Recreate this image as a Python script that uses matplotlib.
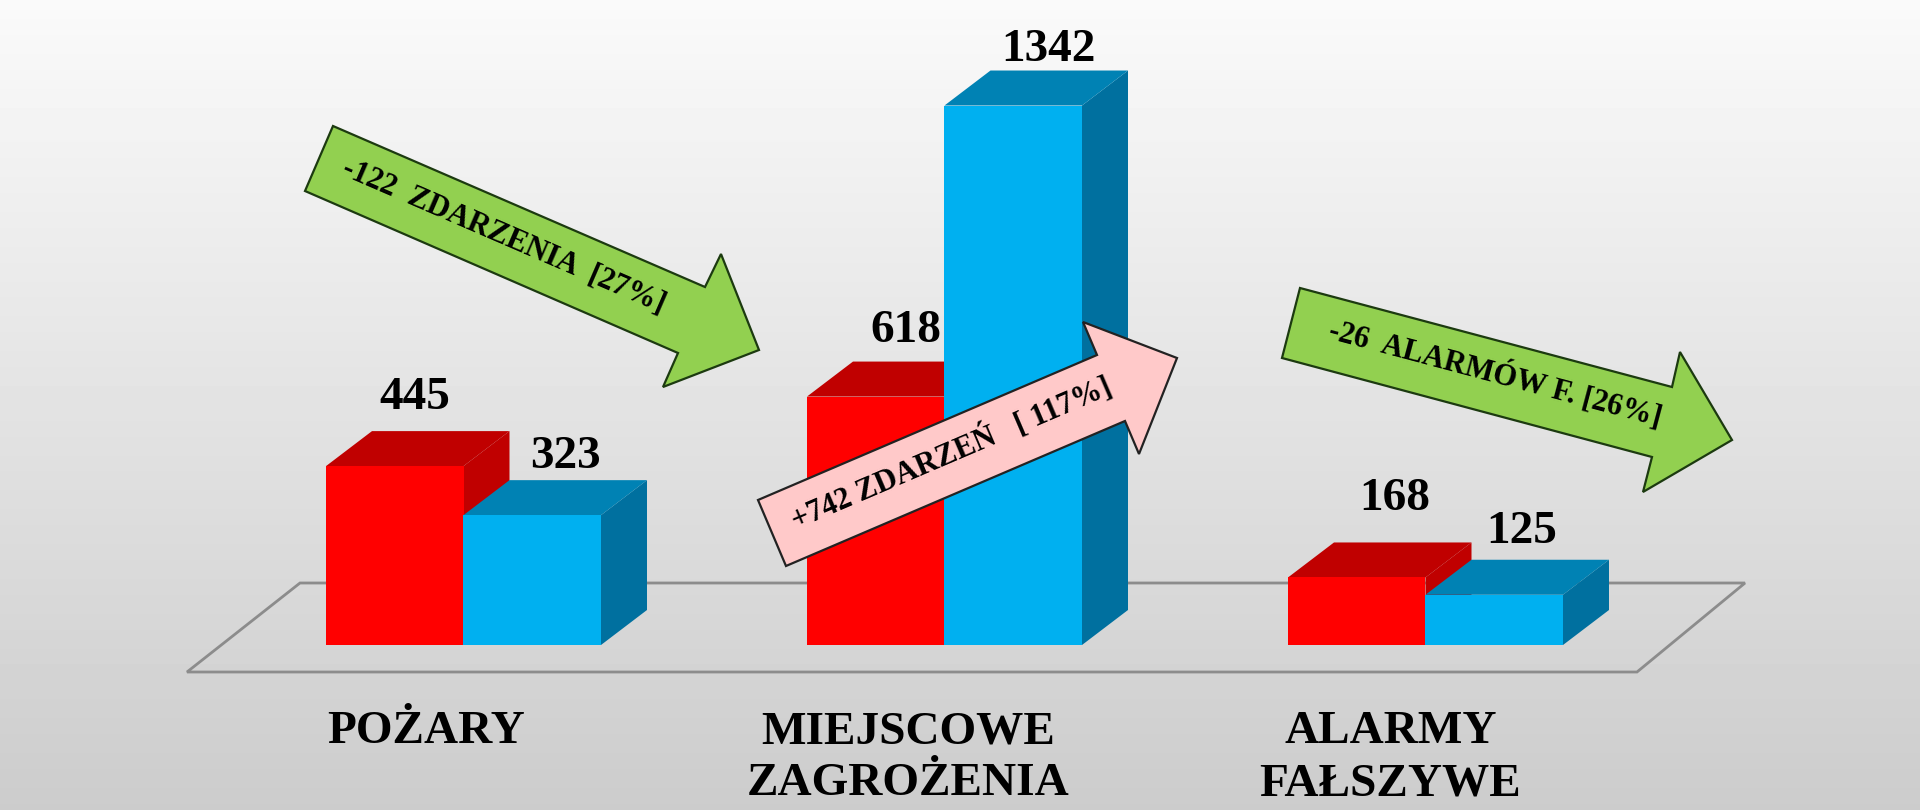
import numpy as np
import matplotlib
matplotlib.use("Agg")
import matplotlib.pyplot as plt
from matplotlib.patches import Polygon

# Data
categories = ["POŻARY", "MIEJSCOWE\nZAGROŻENIA", "ALARMY\nFAŁSZYWE"]
values_red = [445, 618, 168]
values_blue = [323, 1342, 125]
arrow_labels = ["-122  ZDARZENIA  [27%]", "+742 ZDARZEŃ   [ 117%]", "-26  ALARMÓW F. [26%]"]

# Style / layout (pixels)
W, H = 1920, 810
GROUP_PX = 481
BAR_PX = 137.5
ZERO_X = 463.5
ZERO_Y = 645
PX_PER_UNIT = 0.402
DEPTH_X = 46
DEPTH_Y = 35
RED, RED_DARK = "#ff0000", "#c00000"
BLUE, BLUE_TOP, BLUE_SIDE = "#00b0f0", "#0082b4", "#00709f"
SERIF = "Liberation Serif"

red_offsets = [(20, 68), (30, 66), (38, 78)]
blue_offsets = [(33, 58), (35, 56), (27, 63)]
category_offsets = [(-37, -66), (-36, -66), (-35, -66)]

arrow_shapes = [
    [(333, 126), (705, 287), (721, 254), (759, 350), (663, 387), (678, 353), (305, 191)],
    [(758, 500), (1097, 355), (1083, 322), (1177, 358), (1139, 454), (1125, 421), (786, 566)],
    [(1300, 288), (1672, 387), (1680, 352), (1732, 440), (1643, 492), (1652, 457), (1282, 358)],
]
arrow_colors = ["#92d050", "#ffc9c9", "#92d050"]
arrow_edges = ["#1c3a10", "#222222", "#1c3a10"]
arrow_text = [(504, 236, -23.4), (952, 454, 23.2), (1495, 374, -14.9)]

fig = plt.figure(figsize=(W / 100, H / 100), dpi=100)

# Background and floor in pixel coordinates
bg = fig.add_axes([0, 0, 1, 1], zorder=0)
shade = np.linspace(250, 204, 256).reshape(-1, 1) / 255
bg.imshow(shade, extent=[0, W, H, 0], aspect="auto", cmap="gray", vmin=0, vmax=1)
bg.set_xlim(0, W)
bg.set_ylim(H, 0)
bg.axis("off")
floor = Polygon([(300, 583), (1745, 583), (1637, 672), (187, 672)], closed=True,
                fill=False, edgecolor="#8c8c8c", linewidth=2)
bg.add_patch(floor)

# Bars in data coordinates
ax = fig.add_axes([0, 0, 1, 1], zorder=1)
ax.patch.set_alpha(0)
ax.set_xlim(-ZERO_X / GROUP_PX, (W - ZERO_X) / GROUP_PX)
ax.set_ylim(-(H - ZERO_Y) / PX_PER_UNIT, ZERO_Y / PX_PER_UNIT)
ax.axis("off")

w = BAR_PX / GROUP_PX
dx = DEPTH_X / GROUP_PX
dy = DEPTH_Y / PX_PER_UNIT


def draw_bar(x0, h, front, top, side):
    x1 = x0 + w
    ax.add_patch(Polygon([(x1, 0), (x1 + dx, dy), (x1 + dx, h + dy), (x1, h)], color=side, lw=0))
    ax.add_patch(Polygon([(x0, h), (x0 + dx, h + dy), (x1 + dx, h + dy), (x1, h)], color=top, lw=0))
    ax.bar(x0, h, width=w, align="edge", color=front, linewidth=0)


for i in range(len(categories)):
    draw_bar(i - w, values_red[i], RED, RED_DARK, RED_DARK)
    draw_bar(i, values_blue[i], BLUE, BLUE_TOP, BLUE_SIDE)

    for x, val, off in [(i - w / 2, values_red[i], red_offsets[i]), (i + w / 2, values_blue[i], blue_offsets[i])]:
        ax.annotate(str(val), xy=(x, val), xytext=off, textcoords="offset pixels",
                    ha="center", va="center", family=SERIF, fontweight="bold",
                    fontsize=34, color="black")

    ax.annotate(categories[i], xy=(i, 0), xytext=category_offsets[i],
                textcoords="offset pixels", ha="center", va="top", family=SERIF,
                fontweight="bold", fontsize=34, color="black", linespacing=1.32)

# Arrows on top of the bars
top = fig.add_axes([0, 0, 1, 1], zorder=2)
top.patch.set_alpha(0)
top.set_xlim(0, W)
top.set_ylim(H, 0)
top.axis("off")
for pts, fc, ec, (tx, ty, rot), label in zip(arrow_shapes, arrow_colors, arrow_edges, arrow_text, arrow_labels):
    top.add_patch(Polygon(pts, closed=True, facecolor=fc, edgecolor=ec, linewidth=1.6))
    top.text(tx, ty, label, rotation=rot, rotation_mode="anchor", ha="center", va="center",
             family=SERIF, fontweight="bold", fontsize=22, color="black")

fig.savefig("out.png", dpi=100)
plt.close(fig)
